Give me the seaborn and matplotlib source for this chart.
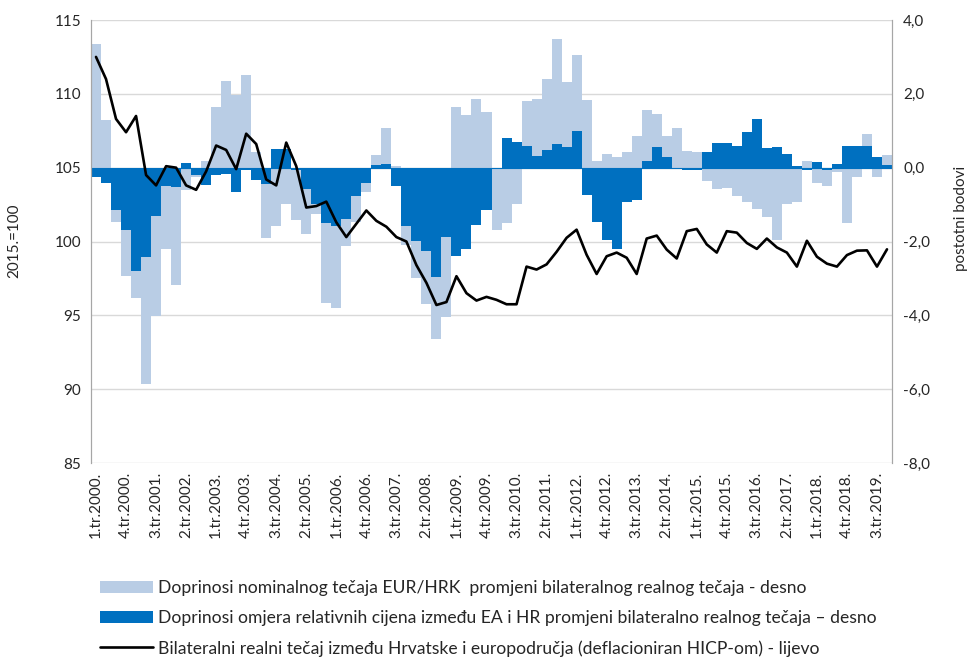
import numpy as np
import matplotlib
matplotlib.use("Agg")
import matplotlib.pyplot as plt
from matplotlib.patches import Patch
from matplotlib.lines import Line2D
import seaborn as sns

# quarterly categories 1.tr.2000. .. 4.tr.2019.
quarters = [f"{q}.tr.{y}." for y in range(2000, 2020) for q in range(1, 5)]

# contribution of nominal EUR/HRK rate (p.p., right axis)
nominal = [3.34, 1.30, -0.34, -1.25, -0.73, -3.42, -2.73, -1.70, -2.66, -0.60,
           -0.05, 0.17, 1.65, 2.34, 1.98, 2.50, 0.43, -1.48, -1.57, -0.99,
           -1.38, -1.22, -0.27, -2.17, -2.23, -0.72, -0.70, -0.25, 0.25, 0.98,
           0.05, -0.53, -1.01, -1.45, -1.66, -2.16, 1.65, 1.42, 1.87, 1.50,
           -1.66, -1.50, -0.98, 1.22, 1.56, 1.94, 2.85, 1.77, 2.08, 1.82,
           0.19, 0.38, 0.30, 0.43, 0.85, 1.38, 0.89, 0.55, 1.07, 0.46,
           0.43, -0.35, -0.58, -0.55, -0.78, -0.94, -1.11, -1.34, -1.95, -0.98,
           -0.93, 0.17, -0.42, -0.43, -0.12, -1.50, -0.26, 0.30, -0.26, 0.27]

# contribution of relative prices EA / HR (p.p., right axis)
relative = [-0.26, -0.42, -1.14, -1.68, -2.79, -2.43, -1.30, -0.51, -0.53, 0.13,
            -0.20, -0.48, -0.19, -0.16, -0.66, -0.07, -0.34, -0.43, 0.51, 0.51,
            -0.05, -0.57, -0.98, -1.50, -1.58, -1.40, -0.77, -0.41, 0.08, 0.10,
            -0.50, -1.57, -1.98, -2.25, -2.97, -1.88, -2.38, -2.20, -1.55, -1.16,
            -0.02, 0.80, 0.69, 0.58, 0.31, 0.47, 0.64, 0.55, 0.98, -0.75,
            -1.48, -1.97, -2.21, -0.94, -0.87, 0.17, 0.57, 0.30, 0.00, -0.05,
            -0.05, 0.43, 0.66, 0.67, 0.60, 0.97, 1.33, 0.54, 0.57, 0.37,
            0.04, -0.05, 0.14, -0.07, 0.11, 0.58, 0.60, 0.60, 0.28, 0.08]

# bilateral real exchange rate, 2015=100 (left axis)
real_rate = [112.5, 111.0, 108.3, 107.4, 108.5, 104.5, 103.8, 105.1, 105.0, 103.8,
             103.5, 104.75, 106.5, 106.2, 104.9, 107.3, 106.6, 104.2, 103.8, 106.7,
             105.1, 102.3, 102.4, 102.7, 101.3, 100.3, 101.2, 102.1, 101.4, 101.0,
             100.3, 100.0, 98.4, 97.2, 95.7, 95.9, 97.65, 96.5, 96.0, 96.25,
             96.05, 95.75, 95.75, 98.3, 98.1, 98.45, 99.3, 100.25, 100.8, 99.1,
             97.8, 99.0, 99.25, 98.9, 97.8, 100.2, 100.4, 99.45, 98.85, 100.7,
             100.85, 99.8, 99.25, 100.7, 100.6, 99.9, 99.5, 100.2, 99.6, 99.25,
             98.3, 100.05, 98.97, 98.5, 98.3, 99.08, 99.38, 99.4, 98.3, 99.47]

legend_labels = [
    "Doprinosi nominalnog tečaja EUR/HRK  promjeni bilateralnog realnog tečaja - desno",
    "Doprinosi omjera relativnih cijena između EA i HR promjeni bilateralno realnog tečaja – desno",
    "Bilateralni realni tečaj između Hrvatske i europodručja (deflacioniran HICP-om) - lijevo",
]

sns.set_style("white")
plt.rcParams['font.family'] = ['Lato', 'DejaVu Sans']

light = '#b9cde5'
dark = '#0070c0'
txt = '#262626'
fs = 11
fs_leg = 12.6

fig = plt.figure(figsize=(9.71, 6.6), dpi=100)
ax = fig.add_axes([91/971, 1 - 463/660, 801/971, 443/660])
ax2 = ax.twinx()

x = np.arange(len(quarters))
nom = np.array(nominal)
rel = np.array(relative)
# excel-style stacking: relative first, nominal on top when same sign
nom_bottom = np.where(np.sign(nom) == np.sign(rel), rel, 0)

ax2.set_axisbelow(True)
ax2.yaxis.grid(True, color='#d9d9d9', lw=1)
ax2.bar(x, rel, width=1.0, color=dark, linewidth=0)
ax2.bar(x, nom, bottom=nom_bottom, width=1.0, color=light, linewidth=0)
ax2.axhline(0, color=dark, lw=0.8)
ax2.set_ylim(-8, 4)
r_ticks = np.arange(-8, 5, 2)
ax2.set_yticks(r_ticks)
ax2.set_yticklabels([f"{v:.1f}".replace('.', ',') for v in r_ticks], fontsize=fs, color=txt)

ax.set_zorder(ax2.get_zorder() + 1)
ax.patch.set_visible(False)
sns.lineplot(x=x, y=real_rate, ax=ax, color='black', lw=1.9)
ax.set_ylim(85, 115)
ax.set_yticks(np.arange(85, 116, 5))
ax.set_yticklabels([str(v) for v in range(85, 116, 5)], fontsize=fs, color=txt)
ax.set_xlim(-0.5, len(quarters) - 0.5)
ax.set_xticks(x[::3])
ax.set_xticklabels(quarters[::3], rotation=90, fontsize=fs, color=txt)
ax.set_ylabel('')
ax.tick_params(axis='both', length=0)
ax2.tick_params(axis='both', length=0)
ax.tick_params(axis='y', pad=7)
ax2.tick_params(axis='y', pad=8)
ax.tick_params(axis='x', pad=6)

for a in (ax, ax2):
    for s in ('top', 'bottom'):
        a.spines[s].set_visible(False)
    a.spines['left'].set_color('#a6a6a6')
    a.spines['right'].set_color('#a6a6a6')

fig.text(14/971, 1 - 241/660, "2015.=100", rotation=90, ha='center', va='center',
         fontsize=fs, color=txt)
fig.text(961/971, 1 - 218/660, "postotni bodovi", rotation=90, ha='center', va='center',
         fontsize=fs, color=txt)

handles = [Patch(facecolor=light, edgecolor='none'),
           Patch(facecolor=dark, edgecolor='none'),
           Line2D([0], [0], color='black', lw=1.9)]
fig.legend(handles, legend_labels, loc='upper left', bbox_to_anchor=(100/971, 1 - 580/660),
           frameon=False, fontsize=fs_leg, handlelength=3.0, handleheight=0.7,
           handletextpad=0.3, labelspacing=0.8, borderpad=0, borderaxespad=0,
           labelcolor=txt)

fig.savefig('out.png', dpi=100)
